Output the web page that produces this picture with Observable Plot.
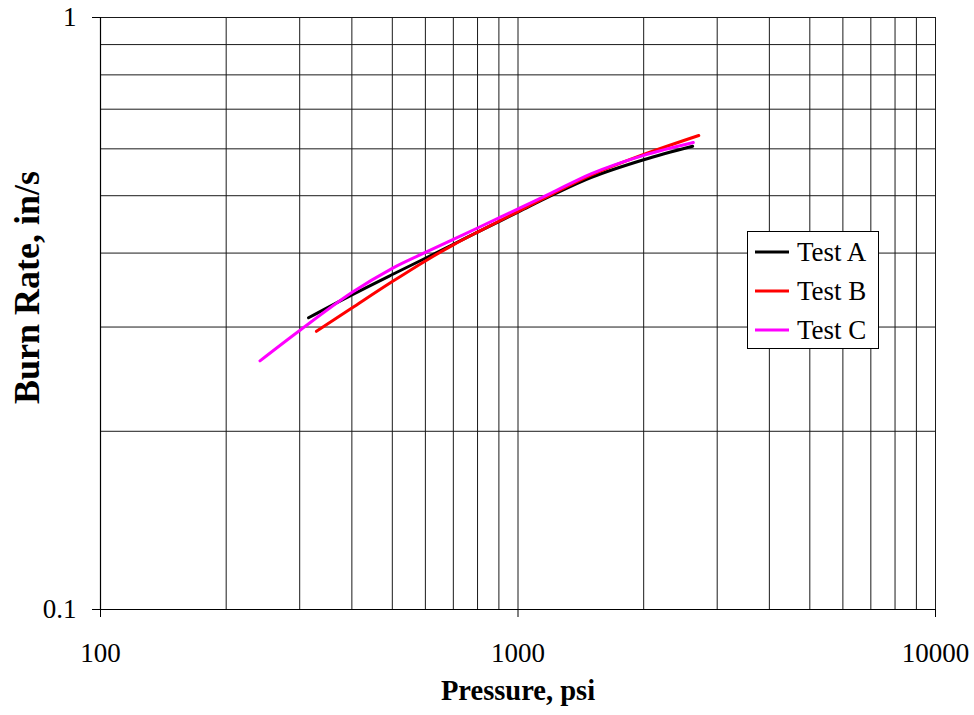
<!DOCTYPE html>
<html>
<head>
<meta charset="utf-8">
<script src="https://cdn.jsdelivr.net/npm/d3@7"></script>
<script src="https://cdn.jsdelivr.net/npm/@observablehq/plot@0.6"></script>
<style>
  body { margin: 0; background: #fff; }
  #wrap { position: relative; width: 974px; height: 715px; }
  #legend {
    position: absolute; left: 747px; top: 231px; width: 130px; height: 116px;
    border: 1px solid #000; background: #fff;
    font-family: "Liberation Serif", "Times New Roman", serif; font-size: 27px; color: #000;
  }
  .row { position: absolute; left: 0; height: 32px; }
  .row svg { position: absolute; left: 7px; top: 13px; }
  .row span { position: absolute; left: 49px; top: 0; line-height: 32px; white-space: nowrap; }
</style>
</head>
<body>
<div id="wrap"><div id="legend"></div></div>
<script>
// ---- data ----
const series = ["Test A", "Test B", "Test C"];
const colors = ["#000000", "#ff0000", "#ff00ff"];

const testAPressure = [315, 400, 500, 600, 700, 800, 1000, 1200, 1500, 2000, 2620];
const testARate     = [0.311, 0.340, 0.368, 0.392, 0.414, 0.434, 0.469, 0.500, 0.537, 0.575, 0.606];

const testBPressure = [329, 400, 500, 600, 700, 800, 1000, 1200, 1500, 2000, 2710];
const testBRate     = [0.295, 0.323, 0.358, 0.388, 0.413, 0.434, 0.470, 0.502, 0.542, 0.587, 0.632];

const testCPressure = [241, 300, 400, 500, 600, 700, 800, 1000, 1200, 1500, 2000, 2630];
const testCRate     = [0.263, 0.296, 0.343, 0.377, 0.401, 0.422, 0.441, 0.475, 0.505, 0.545, 0.585, 0.615];

const xGrid = [200, 300, 400, 500, 600, 700, 800, 900, 1000, 2000, 3000, 4000, 5000, 6000, 7000, 8000, 9000, 10000];
const yGrid = [0.2, 0.3, 0.4, 0.5, 0.6, 0.7, 0.8, 0.9, 1];
const xTicks = [100, 1000, 10000];
const xTickLabels = ["100", "1000", "10000"];
const yTicks = [0.1, 1];
const yTickLabels = ["0.1", "1"];
const xTitle = "Pressure, psi";
const yTitle = "Burn Rate, in/s";

// ---- table ----
const rows = [];
[[testAPressure, testARate], [testBPressure, testBRate], [testCPressure, testCRate]].forEach(([ps, rs], k) => {
  ps.forEach((p, i) => rows.push({series: series[k], p, r: rs[i]}));
});

const xFmt = d => xTickLabels[xTicks.findIndex(t => Math.abs(t - d) < 1e-6)] ?? "";
const yFmt = d => yTickLabels[yTicks.findIndex(t => Math.abs(t - d) < 1e-9)] ?? "";

const chart = Plot.plot({
  width: 974,
  height: 715,
  marginLeft: 100,
  marginRight: 39,
  marginTop: 17,
  marginBottom: 106,
  style: { fontFamily: '"Liberation Serif", "Times New Roman", serif', fontSize: "27px", background: "#fff", color: "#000" },
  x: { type: "log", domain: [100, 10000] },
  y: { type: "log", domain: [0.1, 1] },
  color: { domain: series, range: colors },
  marks: [
    Plot.ruleX(xGrid, { stroke: "#1a1a1a", strokeWidth: 1 }),
    Plot.ruleY(yGrid, { stroke: "#1a1a1a", strokeWidth: 1 }),
    Plot.axisX(xTicks, { tickFormat: xFmt, tickSize: 8, tickPadding: 25, label: null, fontSize: 27 }),
    Plot.axisY(yTicks, { tickFormat: yFmt, tickSize: 8, tickPadding: 16, label: null, fontSize: 27 }),
    Plot.ruleX([100], { stroke: "#000", strokeWidth: 1.2 }),
    Plot.ruleY([0.1], { stroke: "#000", strokeWidth: 1.2 }),
    Plot.line(rows, { x: "p", y: "r", z: "series", stroke: "series", strokeWidth: 3, curve: "catmull-rom" }),
    Plot.text([xTitle], { text: d => d, frameAnchor: "bottom", dy: 90, fontWeight: "bold", fontSize: 28.5 }),
    Plot.text([yTitle], { text: d => d, frameAnchor: "left", textAnchor: "middle", rotate: -90, dx: -73, dy: -26, fontWeight: "bold", fontSize: 36 })
  ]
});
document.getElementById("wrap").prepend(chart);

// ---- legend ----
const legend = document.getElementById("legend");
const rowTops = [4, 43, 82];
series.forEach((s, i) => {
  const div = document.createElement("div");
  div.className = "row";
  div.style.top = rowTops[i] + "px";
  div.innerHTML = `<svg width="34" height="6"><line x1="0" x2="34" y1="3" y2="3" stroke="${colors[i]}" stroke-width="3"/></svg><span>${s}</span>`;
  legend.appendChild(div);
});
</script>
</body>
</html>
